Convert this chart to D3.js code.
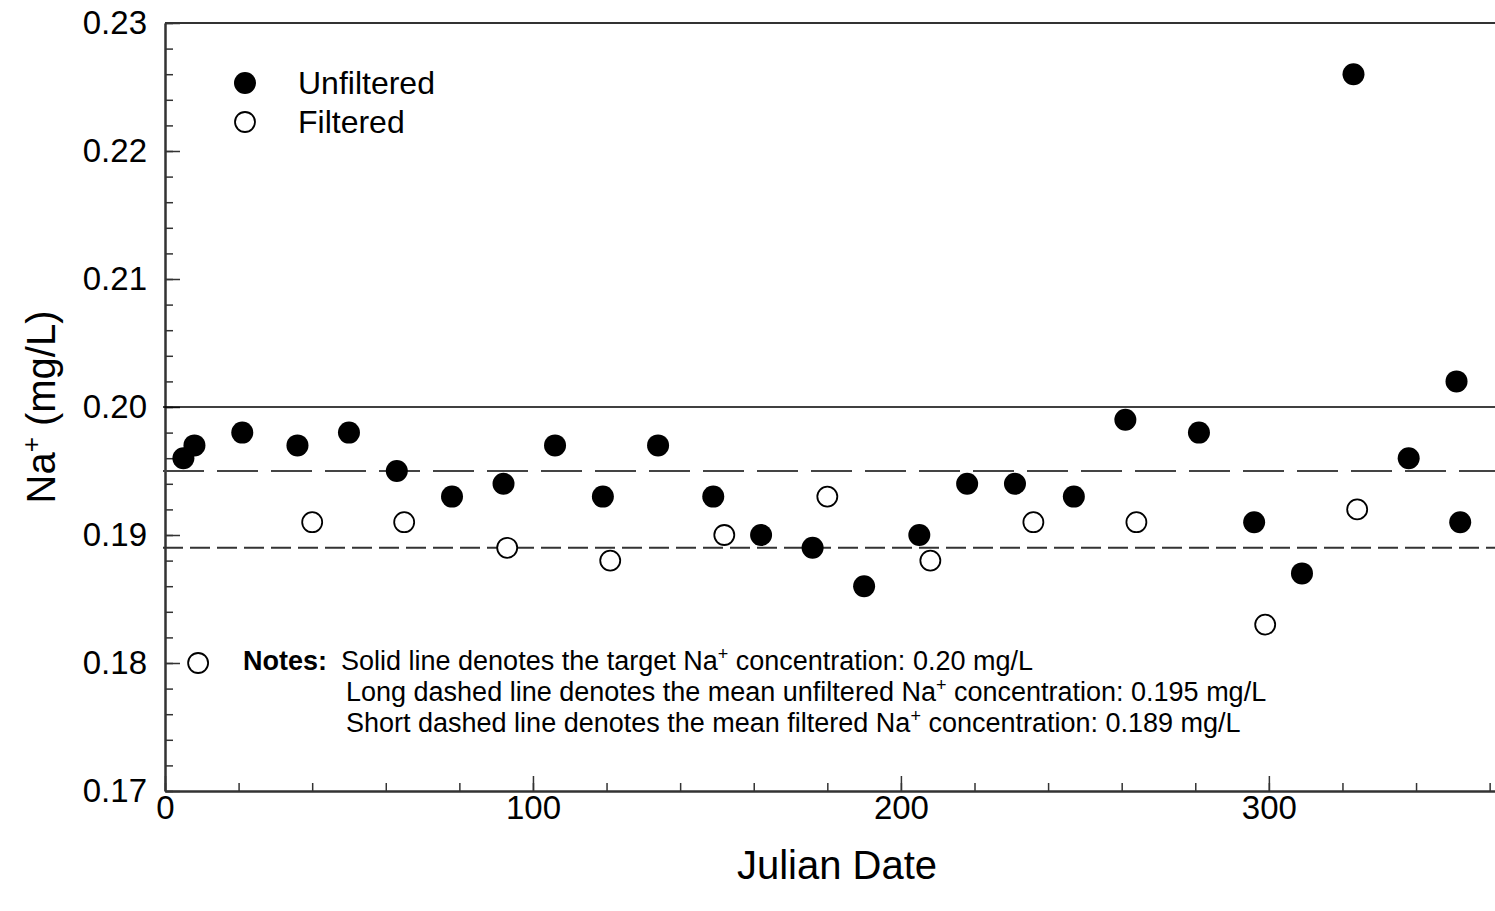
<!DOCTYPE html>
<html>
<head>
<meta charset="utf-8">
<script src="https://cdnjs.cloudflare.com/ajax/libs/d3/7.8.5/d3.min.js"></script>
<style>
  body { margin: 0; background: #fff; }
  svg { display: block; font-family: "Liberation Sans", Arial, sans-serif; }
</style>
</head>
<body>
<div id="chart"></div>
<script>
// Na+ concentration by Julian date
const unfilteredDays = [5, 8, 21, 36, 50, 63, 78, 92, 106, 119, 134, 149, 162, 176, 190, 205, 218, 231, 247, 261, 281, 296, 309, 323, 338, 351, 352];
const unfilteredNa = [0.196, 0.197, 0.198, 0.197, 0.198, 0.195, 0.193, 0.194, 0.197, 0.193, 0.197, 0.193, 0.190, 0.189, 0.186, 0.190, 0.194, 0.194, 0.193, 0.199, 0.198, 0.191, 0.187, 0.226, 0.196, 0.202, 0.191];
const filteredDays = [9, 40, 65, 93, 121, 152, 180, 208, 236, 264, 299, 324];
const filteredNa = [0.180, 0.191, 0.191, 0.189, 0.188, 0.190, 0.193, 0.188, 0.191, 0.191, 0.183, 0.192];

const targetNa = 0.20;
const meanUnfiltered = 0.195;
const meanFiltered = 0.189;

const xMajorTicks = [0, 100, 200, 300];
const xMinorTicks = d3.range(0, 361, 20);
const yMajorTicks = [0.17, 0.18, 0.19, 0.20, 0.21, 0.22, 0.23];
const yMinorTicks = d3.range(0, 31).map(i => 0.17 + i * 0.002);

const legendLabels = ["Unfiltered", "Filtered"];
const noteLines = [
    ["Solid line denotes the target Na", "+", " concentration: 0.20 mg/L"],
    ["Long dashed line denotes the mean unfiltered Na", "+", " concentration: 0.195 mg/L"],
    ["Short dashed line denotes the mean filtered Na", "+", " concentration: 0.189 mg/L"]
];

const width = 1495, height = 911;
const svg = d3.select("#chart").append("svg")
    .attr("width", width)
    .attr("height", height);

const x = d3.scaleLinear().domain([0, 362]).range([165, 1497]);
const y = d3.scaleLinear().domain([0.17, 0.23]).range([791, 23]);

const axisColor = "#333";

// axes (ticks point inward)
const xMinor = svg.append("g")
    .attr("transform", `translate(0,${y(0.17)})`)
    .call(d3.axisBottom(x).tickValues(xMinorTicks).tickSize(-8).tickSizeOuter(0).tickFormat(""));
const xMajor = svg.append("g")
    .attr("transform", `translate(0,${y(0.17)})`)
    .call(d3.axisBottom(x).tickValues(xMajorTicks).tickSize(-15).tickSizeOuter(0).tickPadding(5).tickFormat(d3.format("d")));
const yMinor = svg.append("g")
    .attr("transform", `translate(${x(0)},0)`)
    .call(d3.axisLeft(y).tickValues(yMinorTicks).tickSize(-8).tickSizeOuter(0).tickFormat(""));
const yMajor = svg.append("g")
    .attr("transform", `translate(${x(0)},0)`)
    .call(d3.axisLeft(y).tickValues(yMajorTicks).tickSize(-15).tickSizeOuter(0).tickPadding(18).tickFormat(d3.format(".2f")));

[xMinor, xMajor, yMinor, yMajor].forEach(g => {
    g.attr("font-family", null);
    g.selectAll("path.domain").attr("stroke", axisColor).attr("stroke-width", 2);
    g.selectAll(".tick line").attr("stroke", axisColor).attr("stroke-width", 1.5);
    g.selectAll(".tick text")
        .attr("fill", "#000")
        .style("font-size", "33px");
});

// top frame line
svg.append("line")
    .attr("x1", x(0)).attr("x2", width)
    .attr("y1", y(0.23)).attr("y2", y(0.23))
    .attr("stroke", axisColor).attr("stroke-width", 2);

// reference lines
svg.append("line")
    .attr("x1", x(0) - 2).attr("x2", width)
    .attr("y1", y(targetNa)).attr("y2", y(targetNa))
    .attr("stroke", "#000").attr("stroke-width", 1.5);
svg.append("line")
    .attr("x1", x(0) - 2).attr("x2", width)
    .attr("y1", y(meanUnfiltered)).attr("y2", y(meanUnfiltered))
    .attr("stroke", "#444").attr("stroke-width", 2)
    .attr("stroke-dasharray", "41,13");
svg.append("line")
    .attr("x1", x(0) - 2).attr("x2", width)
    .attr("y1", y(meanFiltered)).attr("y2", y(meanFiltered))
    .attr("stroke", "#333").attr("stroke-width", 2)
    .attr("stroke-dasharray", "20,7");

// points
const unfiltered = unfilteredDays.map((d, i) => ({ day: d, na: unfilteredNa[i] }));
const filtered = filteredDays.map((d, i) => ({ day: d, na: filteredNa[i] }));

svg.append("g").selectAll("circle")
    .data(unfiltered)
    .enter().append("circle")
    .attr("cx", d => x(d.day))
    .attr("cy", d => y(d.na))
    .attr("r", 11)
    .attr("fill", "#000");

svg.append("g").selectAll("circle")
    .data(filtered)
    .enter().append("circle")
    .attr("cx", d => x(d.day))
    .attr("cy", d => y(d.na))
    .attr("r", 10)
    .attr("fill", "#fff")
    .attr("stroke", "#000")
    .attr("stroke-width", 1.8);

// legend
const legend = svg.append("g");
legendLabels.forEach((label, i) => {
    const ly = 83 + i * 39;
    legend.append("circle")
        .attr("cx", 245).attr("cy", ly)
        .attr("r", i === 0 ? 11 : 10)
        .attr("fill", i === 0 ? "#000" : "#fff")
        .attr("stroke", "#000").attr("stroke-width", i === 0 ? 0 : 1.8);
    legend.append("text")
        .attr("x", 298).attr("y", ly + 11)
        .style("font-size", "32px")
        .text(label);
});

// axis titles
svg.append("text")
    .attr("x", 837).attr("y", 879)
    .attr("text-anchor", "middle")
    .style("font-size", "40px")
    .text("Julian Date");

const yTitle = svg.append("text")
    .attr("transform", "translate(55,407) rotate(-90)")
    .attr("text-anchor", "middle")
    .style("font-size", "40px");
yTitle.append("tspan").text("Na");
yTitle.append("tspan").attr("dy", -15).style("font-size", "26px").text("+");
yTitle.append("tspan").attr("dy", 15).text(" (mg/L)");

// notes
svg.append("text")
    .attr("x", 243).attr("y", 670)
    .style("font-size", "27px")
    .style("font-weight", "bold")
    .text("Notes:");

noteLines.forEach((parts, i) => {
    const t = svg.append("text")
        .attr("x", i === 0 ? 341 : 346)
        .attr("y", 670 + i * 31)
        .style("font-size", "27px");
    t.append("tspan").text(parts[0]);
    t.append("tspan").attr("dy", -10).style("font-size", "18px").text(parts[1]);
    t.append("tspan").attr("dy", 10).text(parts[2]);
});
</script>
</body>
</html>
